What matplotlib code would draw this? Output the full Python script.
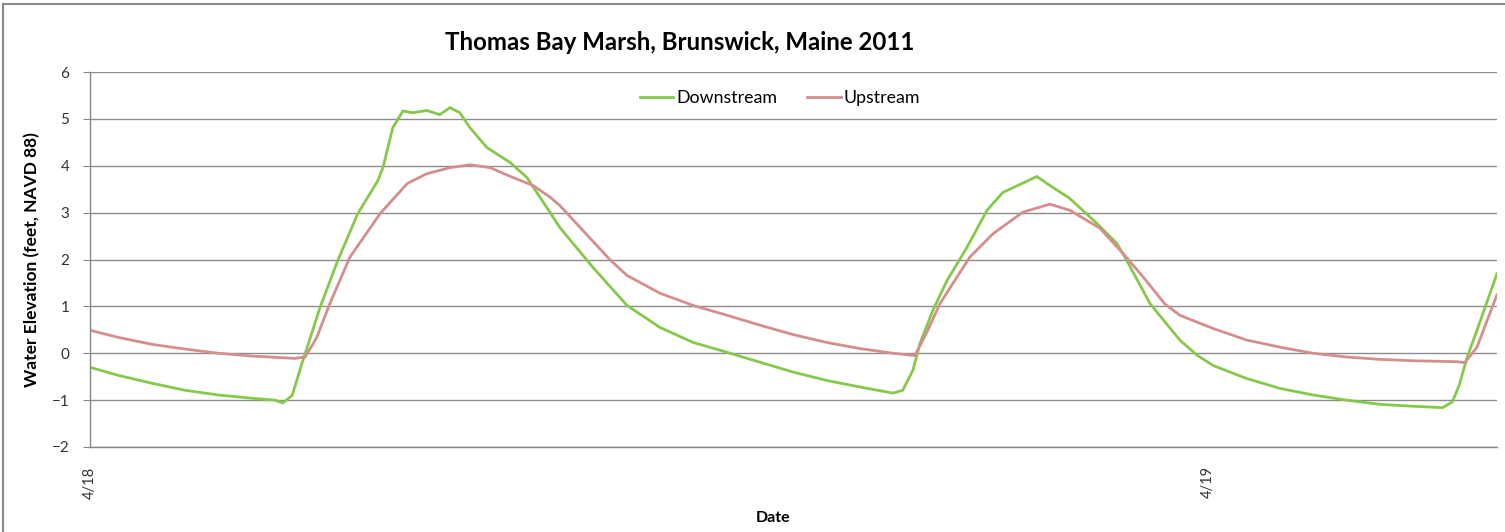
import matplotlib
matplotlib.use('Agg')
import matplotlib.pyplot as plt
import matplotlib.dates as mdates
from matplotlib.lines import Line2D
import pandas as pd

# hours after 4/18 00:00 and water elevation (feet, NAVD 88)
down_hours = [0.00, 0.60, 1.33, 2.04, 2.75, 3.48, 3.97, 4.14, 4.34, 4.55, 4.83, 4.94,
              5.32, 5.75, 6.18, 6.29, 6.50, 6.72, 6.93, 7.23, 7.51, 7.73, 7.94, 8.16,
              8.52, 9.02, 9.38, 9.88, 10.09, 10.80, 11.53, 12.24, 12.95, 13.68, 14.38,
              15.09, 15.82, 16.53, 17.24, 17.45, 17.67, 17.82, 18.10, 18.40, 18.83,
              19.26, 19.60, 20.33, 20.61, 21.04, 21.62, 22.05, 22.26, 22.76, 23.40,
              23.77, 24.11, 24.84, 25.55, 26.26, 26.98, 27.69, 28.40, 29.04, 29.25,
              29.40, 29.57, 29.78, 30.21]
down_values = [-0.30, -0.47, -0.64, -0.79, -0.89, -0.96, -1.00, -1.06, -0.90, -0.22, 0.64, 0.98,
               1.98, 2.98, 3.68, 3.96, 4.81, 5.17, 5.13, 5.18, 5.09, 5.24, 5.13, 4.81,
               4.39, 4.07, 3.75, 3.00, 2.68, 1.83, 1.02, 0.55, 0.23, 0.02, -0.19,
               -0.40, -0.58, -0.72, -0.85, -0.79, -0.36, 0.21, 0.92, 1.55, 2.26,
               3.05, 3.43, 3.77, 3.58, 3.30, 2.77, 2.34, 1.98, 1.06, 0.28,
               -0.04, -0.26, -0.54, -0.75, -0.89, -1.00, -1.09, -1.13, -1.16, -1.04,
               -0.68, -0.08, 0.49, 1.70]

up_hours = [0.00, 0.60, 1.33, 2.04, 2.75, 3.48, 4.40, 4.62, 4.87, 5.15, 5.58, 6.23,
            6.81, 7.23, 7.73, 8.16, 8.59, 9.08, 9.51, 9.88, 10.09, 11.16, 11.53, 12.24,
            12.95, 13.68, 14.38, 15.09, 15.82, 16.53, 17.24, 17.71, 17.97, 18.25, 18.89,
            19.39, 20.03, 20.61, 21.04, 21.68, 22.18, 22.61, 23.08, 23.40, 24.11, 24.84,
            25.55, 26.26, 26.98, 27.69, 28.40, 29.35, 29.52, 29.78, 30.21]
up_values = [0.49, 0.34, 0.19, 0.09, 0.00, -0.06, -0.11, -0.08, 0.34, 1.06, 2.05, 2.98,
             3.62, 3.83, 3.96, 4.02, 3.96, 3.75, 3.58, 3.33, 3.15, 2.00, 1.66, 1.28,
             1.02, 0.81, 0.60, 0.40, 0.23, 0.10, 0.00, -0.05, 0.45, 1.06, 2.05,
             2.55, 3.01, 3.18, 3.05, 2.67, 2.13, 1.63, 1.05, 0.81, 0.53, 0.28,
             0.13, 0.00, -0.08, -0.13, -0.16, -0.18, -0.20, 0.13, 1.25]

tick_labels = ['4/18', '4/19']
start = pd.Timestamp('2011-04-18')
end_hours = 30.21

plt.rcParams['font.family'] = ['Lato', 'DejaVu Sans']

fig = plt.figure(figsize=(15.05, 5.32), dpi=100)
ax = fig.add_axes([90 / 1505, 1 - 447 / 532, (1497 - 90) / 1505, (447 - 72) / 532])

t_down = start + pd.to_timedelta(down_hours, unit='h')
t_up = start + pd.to_timedelta(up_hours, unit='h')
ax.plot(t_down, down_values, color='#86C94A', lw=2.0, label='Downstream', solid_joinstyle='round')
ax.plot(t_up, up_values, color='#D48E8D', lw=2.0, label='Upstream', solid_joinstyle='round')

ax.set_xlim(start, start + pd.Timedelta(hours=end_hours))
ax.set_ylim(-2, 6)
ax.set_yticks(range(-2, 7))
ax.set_xticks([mdates.date2num(start), mdates.date2num(start + pd.Timedelta(days=1))])
ax.set_xticklabels(tick_labels, rotation=90, fontsize=10.5, color='#333333')
ax.tick_params(axis='x', length=0, pad=14)
ax.tick_params(axis='y', length=5, color='#888888', labelsize=11, labelcolor='#333333', pad=10)

ax.grid(axis='y', color='#8c8c8c', lw=1.0)
ax.set_axisbelow(True)
for side in ['top', 'right']:
    ax.spines[side].set_visible(False)
for side in ['left', 'bottom']:
    ax.spines[side].set_color('#888888')
    ax.spines[side].set_linewidth(1.0)

ax.set_ylabel('Water Elevation (feet, NAVD 88)', fontsize=12.5, fontweight='bold', labelpad=8)
fig.text(773 / 1505, 1 - 518 / 532, 'Date', ha='center', va='center', fontsize=11.5, fontweight='bold')
fig.text(680 / 1505, 1 - 42 / 532, 'Thomas Bay Marsh, Brunswick, Maine 2011', ha='center', va='center',
         fontsize=17.3, fontweight='bold')

fig.legend(loc='center', bbox_to_anchor=(780 / 1505, 1 - 98 / 532), ncol=2, frameon=False,
           fontsize=12.8, handlelength=1.9, handletextpad=0.15, columnspacing=1.7)

# chart border
fig.add_artist(Line2D([3 / 1505, 3 / 1505], [0, 1 - 4 / 532], color='#888888', lw=1.5))
fig.add_artist(Line2D([3 / 1505, 1], [1 - 4 / 532, 1 - 4 / 532], color='#888888', lw=1.5))

fig.savefig('out.png', dpi=100)
